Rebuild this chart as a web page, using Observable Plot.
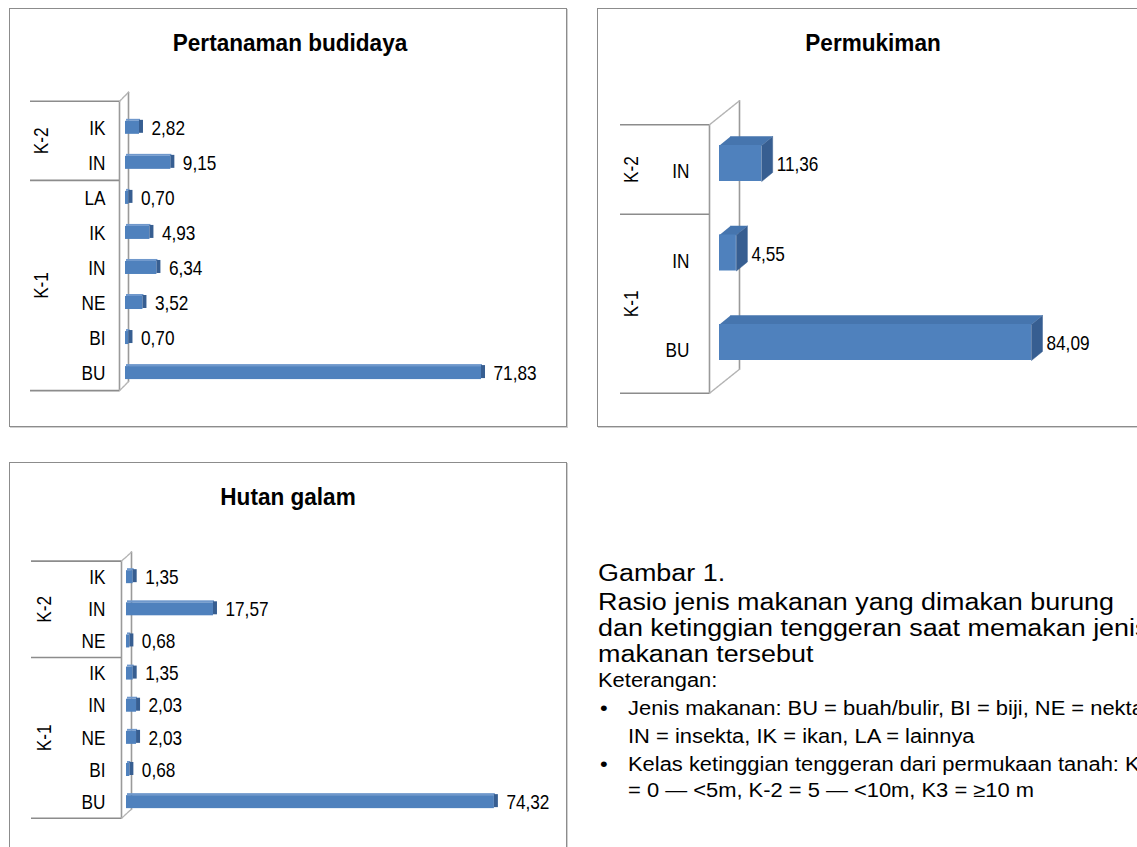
<!DOCTYPE html>
<html><head><meta charset="utf-8">
<script src="https://cdn.jsdelivr.net/npm/d3@7"></script>
<script src="https://cdn.jsdelivr.net/npm/@observablehq/plot@0.6"></script>
<style>
html,body{margin:0;padding:0;background:#fff;}
body{width:1137px;height:847px;overflow:hidden;position:relative;font-family:"Liberation Sans",Arial,sans-serif;color:#000;}
.box{position:absolute;border:1px solid #8c8c8c;box-sizing:border-box;box-shadow:1px 1px 0 #d0d0d0;}
.title{position:absolute;font-weight:bold;font-size:23.5px;line-height:23.5px;white-space:nowrap;transform:translateX(-50%) scaleX(0.96);}
.chart{position:absolute;}
.cap{position:absolute;white-space:nowrap;line-height:1;transform-origin:0 0;}
</style></head>
<body>
<div id="root"></div>
<script>
// ---------- data ----------
const titles = ["Pertanaman budidaya", "Permukiman", "Hutan galam"];

const p1Groups = ["K-2","K-2","K-1","K-1","K-1","K-1","K-1","K-1"];
const p1Foods  = ["IK","IN","LA","IK","IN","NE","BI","BU"];
const p1Values = [2.82, 9.15, 0.70, 4.93, 6.34, 3.52, 0.70, 71.83];

const p2Groups = ["K-2","K-1","K-1"];
const p2Foods  = ["IN","IN","BU"];
const p2Values = [11.36, 4.55, 84.09];

const p3Groups = ["K-2","K-2","K-2","K-1","K-1","K-1","K-1","K-1"];
const p3Foods  = ["IK","IN","NE","IK","IN","NE","BI","BU"];
const p3Values = [1.35, 17.57, 0.68, 1.35, 2.03, 2.03, 0.68, 74.32];

const captionTitle = ["Gambar 1.", "Rasio jenis makanan yang dimakan burung", "dan ketinggian tenggeran saat memakan jenis", "makanan tersebut"];
const captionNote = "Keterangan:";
const captionBullets = [
  ["Jenis makanan: BU = buah/bulir, BI = biji, NE = nektar,", "IN = insekta, IK = ikan, LA = lainnya"],
  ["Kelas ketinggian tenggeran dari permukaan tanah: K-1", "= 0 \u2014 <5m, K-2 = 5 \u2014 <10m, K3 = \u226510 m"]
];

// ---------- helpers ----------
const fmt = v => v.toFixed(2).replace(".", ",");
const FONT = "'Liberation Sans',Arial,sans-serif";
const NARROW = 0.82;
const FRONT = "#4F81BD", TOPC = "#4675AE", SIDE = "#375E91", WALL = "#9a9a9a";

function buildRows(groups, foods, values) {
  return foods.map((food, i) => ({i, group: groups[i], food, value: values[i]}));
}
function buildGroups(rows) {
  const out = [];
  rows.forEach(r => {
    const last = out[out.length - 1];
    if (last && last.group === r.group) last.end = r.i;
    else out.push({group: r.group, start: r.i, end: r.i});
  });
  return out;
}

// condense the chart labels (the original uses a narrow face)
function narrowText(svg) {
  svg.querySelectorAll("text").forEach(t => {
    const tr = t.getAttribute("transform");
    if (tr) t.setAttribute("transform", tr + ` scale(${NARROW},1)`);
    else {
      const x = +t.getAttribute("x") || 0, y = +t.getAttribute("y") || 0;
      t.setAttribute("transform", `translate(${x},${y}) scale(${NARROW},1) translate(${-x},${-y})`);
    }
  });
}

function panel(cfg) {
  const rows = buildRows(cfg.groups, cfg.foods, cfg.values);
  const grp = buildGroups(rows);
  const n = rows.length;
  const k = (cfg.xRange[1] - cfg.xRange[0]) / (cfg.xDomain[1] - cfg.xDomain[0]);
  const ky = (cfg.yRange[1] - cfg.yRange[0]) / n;
  const ux = px => px / k, uy = px => px / ky;
  const top = -0.5 - uy(cfg.topExtra || 0), bot = n - 0.5;
  grp.forEach(g => {
    g.y0 = g.start === 0 ? top : g.start - 0.5;
    g.y1 = g.end + 0.5;
    g.mid = (g.y0 + g.y1) / 2;
  });
  const xf = ux(cfg.wallFront), xb = ux(cfg.wallBack[0]), db = uy(cfg.wallBack[1]);
  const seps = [...grp.map(g => g.y0), bot].map(y => ({y, x1: ux(cfg.sepLeft - cfg.xRange[0]), x2: xf}));
  const wall = [
    {s: "f", x: xf, y: top}, {s: "f", x: xf, y: bot},
    {s: "b", x: xb, y: top - db}, {s: "b", x: xb, y: bot - db}
  ];
  const diag = [
    {s: "t", x: xf, y: top}, {s: "t", x: xb, y: top - db},
    {s: "d", x: xf, y: bot}, {s: "d", x: xb, y: bot - db}
  ];
  const h = uy(cfg.barHalf);
  const marks = [
    Plot.line(wall, {x: "x", y: "y", z: "s", stroke: WALL, strokeWidth: 1.6}),
    Plot.line(diag, {x: "x", y: "y", z: "s", stroke: "#b4b4b4", strokeWidth: 1.4, strokeDasharray: "3,1"}),
    Plot.ruleY(seps, {y: "y", x1: "x1", x2: "x2", stroke: "#8c8c8c", strokeWidth: 1.6})
  ];
  if (cfg.box) {
    const dX = ux(cfg.depth[0]), dY = uy(cfg.depth[1]);
    const topFace = rows.flatMap(r => [
      {id: r.i, x: 0, y: r.i - h}, {id: r.i, x: r.value, y: r.i - h},
      {id: r.i, x: r.value + dX, y: r.i - h - dY}, {id: r.i, x: dX, y: r.i - h - dY}]);
    const sideFace = rows.flatMap(r => [
      {id: r.i, x: r.value, y: r.i - h}, {id: r.i, x: r.value, y: r.i + h},
      {id: r.i, x: r.value + dX, y: r.i + h - dY}, {id: r.i, x: r.value + dX, y: r.i - h - dY}]);
    marks.push(
      Plot.line(topFace, {x: "x", y: "y", z: "id", fill: TOPC, stroke: TOPC, strokeWidth: 0.5, dy: cfg.barDy}),
      Plot.line(sideFace, {x: "x", y: "y", z: "id", fill: SIDE, stroke: SIDE, strokeWidth: 0.5, dy: cfg.barDy}),
      Plot.rect(rows, {x1: d => 0, x2: "value", y1: d => d.i - h, y2: d => d.i + h, fill: FRONT, dy: cfg.barDy})
    );
  } else {
    marks.push(
      Plot.rect(rows, {x1: d => 0, x2: "value", y1: d => d.i - h, y2: d => d.i + h, fill: FRONT, dy: cfg.barDy}),
      Plot.rect(rows, {x1: d => 0, x2: "value", y1: d => d.i - h, y2: d => d.i - h, insetTop: -2, dx: 1, fill: "#6f98cc", dy: cfg.barDy}),
      Plot.rect(rows, {x1: "value", x2: "value", y1: d => d.i - h, y2: d => d.i + h, insetRight: -4, fill: SIDE, dy: cfg.barDy - 1})
    );
  }
  marks.push(
    Plot.text(rows, {x: d => 0, y: "i", text: "food", textAnchor: "end", dx: cfg.labelDx, dy: cfg.labelDy || 0, fontSize: 21}),
    Plot.text(grp, {x: d => 0, y: "mid", text: "group", rotate: -90, dx: cfg.groupDx, fontSize: 21}),
    Plot.text(rows, {x: "value", y: "i", text: d => fmt(d.value), textAnchor: "start", dx: cfg.valueDx, dy: cfg.valueDy, fontSize: 21})
  );
  const svg = Plot.plot({
    width: cfg.width, height: cfg.height, margin: 0,
    x: {domain: cfg.xDomain, range: cfg.xRange, axis: null},
    y: {domain: [-0.5, bot], range: cfg.yRange, axis: null},
    style: {fontFamily: FONT, fontSize: "21px", background: "transparent", overflow: "visible", color: "#000"},
    marks
  });
  narrowText(svg);
  svg.classList.add("chart");
  svg.style.left = cfg.left + "px";
  svg.style.top = cfg.top + "px";
  return svg;
}

const root = document.getElementById("root");
function addBox(l, t, w, h) {
  const d = document.createElement("div");
  d.className = "box";
  Object.assign(d.style, {left: l + "px", top: t + "px", width: w + "px", height: h + "px"});
  root.appendChild(d);
}
function addTitle(text, cx, baseline) {
  const d = document.createElement("div");
  d.className = "title";
  d.textContent = text;
  Object.assign(d.style, {left: cx + "px", top: (baseline - 0.8465 * 23.5) + "px"});
  root.appendChild(d);
}
function addCap(text, left, cy, fs, sx) {
  const d = document.createElement("div");
  d.className = "cap";
  d.textContent = text;
  Object.assign(d.style, {left: left + "px", top: (cy - 0.49 * fs) + "px", fontSize: fs + "px", transform: `scaleX(${sx})`});
  root.appendChild(d);
}

addBox(9, 8, 558, 419);
addBox(597, 8, 600, 419);
addBox(9, 462, 558, 500);

root.appendChild(panel({
  left: 9, top: 8, width: 559, height: 420,
  groups: p1Groups, foods: p1Foods, values: p1Values,
  xDomain: [0, 80], xRange: [116, 512.5], yRange: [101.8, 382.1], topExtra: 9,
  sepLeft: 21, wallFront: -6, wallBack: [3, 9],
  labelDx: -20, groupDx: -84, barHalf: 6.5, barDy: 0, valueDx: 12, valueDy: 0
}));
root.appendChild(panel({
  left: 598, top: 8, width: 560, height: 420,
  groups: p2Groups, foods: p2Foods, values: p2Values,
  xDomain: [0, 100], xRange: [121, 492], yRange: [116.25, 384.75],
  sepLeft: 22, wallFront: -10, wallBack: [20, 24], box: true, depth: [11, 9],
  labelDx: -30, labelDy: 2, groupDx: -88, barHalf: 18, barDy: -6, valueDx: 15, valueDy: -5
}));
root.appendChild(panel({
  left: 9, top: 462, width: 559, height: 385,
  groups: p3Groups, foods: p3Foods, values: p3Values,
  xDomain: [0, 80], xRange: [117, 513], yRange: [98.6, 355.7],
  sepLeft: 22, wallFront: -5, wallBack: [5, 9],
  labelDx: -21, groupDx: -82, barHalf: 6.5, barDy: 0, valueDx: 12, valueDy: 0
}));

addTitle(titles[0], 290, 51.5);
addTitle(titles[1], 873, 51.5);
addTitle(titles[2], 288, 506);

const bigY = [574, 603, 629, 655];
captionTitle.forEach((t, i) => addCap(t, 598, bigY[i], 23.5, 1.145));
addCap(captionNote, 598, 681, 19.4, 1.13);
const bulletY = [[709, 737], [765, 791]];
captionBullets.forEach((lines, b) => {
  addCap("\u2022", 600, bulletY[b][0], 19.4, 1.13);
  lines.forEach((t, j) => addCap(t, 628, bulletY[b][j], 19.4, 1.13));
});
</script>
</body></html>
